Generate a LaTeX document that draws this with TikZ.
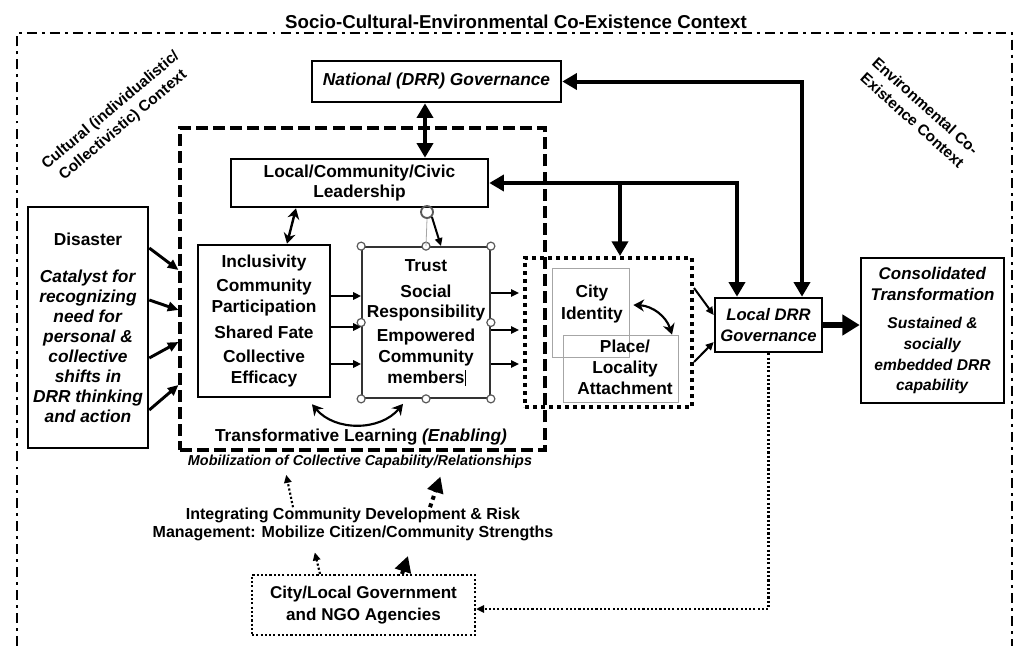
\documentclass[tikz,border=0pt]{standalone}
\usepackage{fontspec}
\setmainfont{Liberation Sans}
\usetikzlibrary{arrows.meta,calc}
\newcommand{\boxfont}{\fontsize{13}{15.5}\selectfont\bfseries}
\newcommand{\subfont}{\fontsize{11.7}{14.2}\selectfont}
\tikzset{
  box/.style = {draw, line width=1.9pt, inner sep=0pt, align=center, font=\boxfont},
  selbox/.style = {draw=black!80, line width=1.3pt, inner sep=0pt, align=center, font=\boxfont},
  thinbox/.style = {draw=gray!70, line width=0.6pt, inner sep=0pt},
  txt/.style = {inner sep=0pt, align=center, font=\boxfont},
  ctx/.style = {inner sep=0pt, align=center, font=\fontsize{11.5}{14.5}\selectfont\bfseries},
  handle/.style = {draw=gray!70!black, fill=white, line width=0.9pt},
  twohead/.style = {line width=3pt, {Triangle[length=11pt,width=12pt]}-{Triangle[length=11pt,width=12pt]}},
  onehead/.style = {line width=3pt, -{Triangle[length=11pt,width=12pt]}},
  feed/.style = {line width=2.2pt, -{Triangle[length=8pt,width=7pt]}},
  link/.style = {line width=1.5pt, -{Triangle[length=6pt,width=5.5pt]}},
  pairarr/.style = {line width=1.6pt, {Stealth[length=8pt,width=9pt]}-{Stealth[length=8pt,width=9pt]}},
  outflow/.style = {line width=4.5pt, -{Triangle[length=13pt,width=15pt]}},
  dotlink/.style = {line width=1.6pt, dash pattern=on 1.6pt off 1.6pt, -{Triangle[length=6pt,width=5.5pt]}},
  dotfat/.style = {line width=3pt, dash pattern=on 3pt off 3pt, -{Triangle[length=12pt,width=12pt]}},
}

\begin{document}
\begin{tikzpicture}[x=0.75pt,y=-0.75pt]
  \useasboundingbox (0,0) rectangle (1032,646);
  % context frame
  \draw[line width=1.9pt, dash pattern=on 7.5pt off 3.8pt on 2.2pt off 3.8pt] (17,646) -- (17,33) -- (1012,33) -- (1012,646);
  \node[txt, font=\fontsize{14}{16}\selectfont\bfseries] (title) at (516,22) {Socio-Cultural-Environmental Co-Existence Context};
  \node[ctx, rotate=40] (cult) at (117,118) {Cultural (individualistic/\\Collectivistic) Context};
  \node[ctx, rotate=-42] (env) at (919,113) {Environmental Co-\\Existence Context};

  % transformative learning
  \node[draw, line width=2.3pt, dash pattern=on 9pt off 3.8pt, inner sep=0pt, minimum width=273.75pt, minimum height=241.5pt] (tl) at (362.5,289) {};
  \node[txt] (tltext) at (361,437) {Transformative Learning \textit{(Enabling)}};
  \node[txt, font=\fontsize{10.8}{12}\selectfont\bfseries\itshape] (mob) at (360,462) {Mobilization of Collective Capability/Relationships};

  \node[box, font=\boxfont\itshape, minimum width=186.75pt, minimum height=30.75pt] (nat) at (436.5,81.5) {National (DRR) Governance};
  \node[box, minimum width=192.75pt, minimum height=36pt] (lead) at (359.5,183) {Local/Community/Civic\\Leadership};
  \node[box, font=\fontsize{13}{15}\selectfont\bfseries, minimum width=90pt, minimum height=180.75pt] (dis) at (88,327.5)
    {Disaster\\[12.5pt]\textit{Catalyst for}\\\textit{recognizing}\\\textit{need for}\\\textit{personal \&}\\\textit{collective}\\\textit{shifts in}\\\textit{DRR thinking}\\\textit{and action}};
  \node[box, minimum width=99pt, minimum height=114pt] (incl) at (264,321)
    {Inclusivity\\[2.5pt]Community\\Participation\\[4pt]Shared Fate\\[3.2pt]Collective\\Efficacy};
  \node[selbox, minimum width=96pt, minimum height=113.25pt] (trust) at (426,322.5)
    {Trust\\[4pt]Social\\Responsibility\\[2.5pt]Empowered\\Community\\members\rlap{\hspace{0.5pt}\rule[-2pt]{0.5pt}{12pt}}};
  \foreach \a in {north west,north,north east,east,south east,south,south west,west}
    \draw[handle] (trust.\a) circle (3pt);
  \node[circle, draw=gray!70!black, line width=1.4pt, minimum size=9pt, inner sep=0pt] (rot) at (427,212) {};
  \draw[gray!70, line width=0.6pt] (trust.north) -- (rot.south);

  % place attachment
  \node[draw, line width=3pt, dash pattern=on 3pt off 3pt, inner sep=0pt, minimum width=125.25pt, minimum height=111.75pt] (pf) at (608.5,332.5) {};
  \node[thinbox, minimum width=57.75pt, minimum height=66.75pt] (city) at (590.5,312.5) {};
  \node[thinbox, minimum width=86.25pt, minimum height=50.25pt] (attach) at (620.5,368.5) {};
  \node[txt, font=\fontsize{13}{16.5}\selectfont\bfseries] (citytext) at (592,304) {City\\Identity};
  \node[txt, font=\fontsize{13}{15.75}\selectfont\bfseries] (placetext) at (625,367) {Place/\\Locality\\Attachment};

  \node[box, font=\fontsize{12.5}{15.5}\selectfont\bfseries\itshape, minimum width=80.25pt, minimum height=40.5pt] (ldrr) at (768.5,325) {Local DRR\\Governance};
  \node[box, minimum width=107.25pt, minimum height=108.75pt] (cons) at (932.5,330.5)
    {{\fontsize{12.7}{15.7}\selectfont\textit{Consolidated}}\\{\fontsize{12.7}{15.7}\selectfont\textit{Transformation}}\\[6pt]{\subfont\textit{Sustained \&}}\\{\subfont\textit{socially}}\\{\subfont\textit{embedded DRR}}\\{\subfont\textit{capability}}};

  \node[txt, font=\fontsize{12}{13.5}\selectfont\bfseries] (integ) at (353,524) {Integrating Community Development \& Risk\\Management: Mobilize Citizen/Community Strengths};
  \node[txt, draw, line width=1.6pt, dash pattern=on 1.6pt off 1.6pt, font=\fontsize{12.8}{16.5}\selectfont\bfseries, minimum width=167.25pt, minimum height=45pt] (gov) at (363.5,605) {City/Local Government\\and NGO Agencies};

  % connectors
  \draw[twohead] (nat.south -| 425,0) -- (lead.north -| 425,0);
  \draw[twohead] (nat.east) -| (ldrr.north -| 802,0);
  \draw[twohead] (lead.east) -| (ldrr.north -| 737,0);
  \draw[onehead] (lead.east -| 620,0) -- (pf.north -| 620,0);
  \foreach \ya/\yb in {248/270,300/310,358/342,410/385}
    \draw[feed] (dis.east |- 0,\ya) -- (tl.west |- 0,\yb);
  \draw[pairarr, line width=1.8pt] (lead.south -| 296,0) -- (incl.north -| 287,0);
  \draw[link] (rot.south east) -- (trust.north -| 441,0);
  \foreach \y in {296,327,364}
    \draw[link] (incl.east |- 0,\y) -- (trust.west |- 0,\y);
  \foreach \y in {293,330,364}
    \draw[link, shorten >=3pt] (trust.east |- 0,\y) -- (pf.west |- 0,\y);
  \draw[pairarr] ($(incl.south -| 312,0)+(0,6)$) to[bend right=50] ($(trust.south -| 403,0)+(0,5)$);
  \draw[pairarr] ($(city.east |- 0,305)+(4,0)$) to[bend left=35] (attach.north -| 672,0);
  \draw[link] (pf.east |- 0,288) -- (ldrr.west |- 0,315);
  \draw[link] (pf.east |- 0,362) -- (ldrr.west |- 0,342);
  \draw[outflow] (ldrr.east) -- (cons.west |- ldrr.east);
  \draw[dotlink] (ldrr.south) |- (gov.east |- 0,609);
  \draw[dotlink, shorten >=9pt] (gov.north -| 320,0) -- (integ.south -| 312,0);
  \draw[dotfat, shorten >=12pt] (gov.north -| 402,0) -- (integ.south -| 413,0);
  \draw[dotlink, shorten >=4.5pt] (integ.north -| 293,0) -- (mob.south -| 285,0);
  \draw[dotfat, shorten >=6pt] (integ.north -| 430,0) -- (mob.south -| 443,0);
\end{tikzpicture}
\end{document}
